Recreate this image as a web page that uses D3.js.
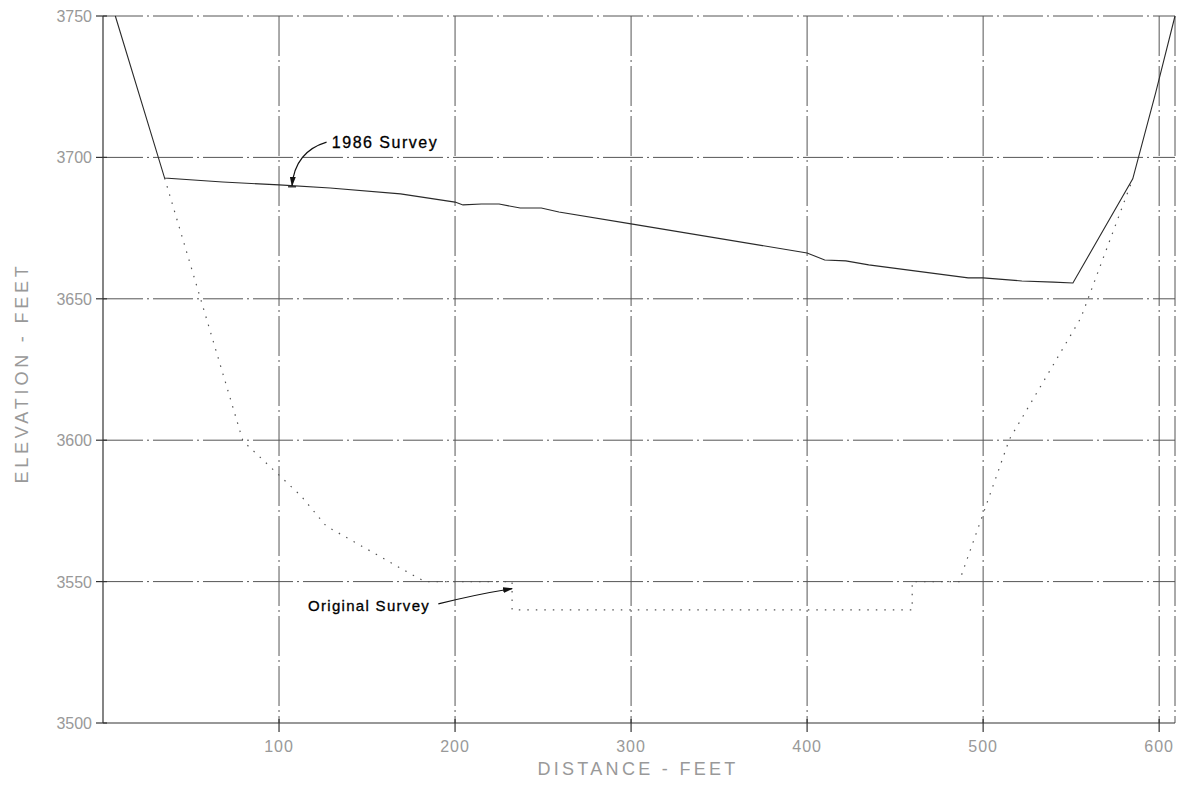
<!DOCTYPE html>
<html>
<head>
<meta charset="utf-8">
<script src="https://cdn.jsdelivr.net/npm/d3@7"></script>
<style>
  html, body { margin: 0; padding: 0; background: #fff; }
  svg { display: block; }
</style>
</head>
<body>
<svg id="chart" width="1177" height="786"></svg>
<script>
// ---- data ----
const xTicks = [100, 200, 300, 400, 500, 600];
const yTicks = [3500, 3550, 3600, 3650, 3700, 3750];
const xTickLabels = ["100", "200", "300", "400", "500", "600"];
const yTickLabels = ["3500", "3550", "3600", "3650", "3700", "3750"];

const survey1986X = [7, 35, 68, 100, 129, 169, 200, 204.5, 215, 225, 237, 249, 259, 300, 400, 410, 422, 435, 491.5, 500, 522, 540, 551, 585, 598, 609];
const survey1986Y = [3750, 3692.7, 3691.3, 3690.3, 3689.2, 3687.1, 3684.2, 3683.2, 3683.5, 3683.5, 3682.1, 3682.1, 3680.7, 3676.5, 3666.2, 3663.7, 3663.4, 3662, 3657.4, 3657.4, 3656.3, 3655.9, 3655.6, 3692.4, 3722.8, 3750];

const originalX = [35, 79.5, 112.5, 126.7, 174, 183, 232.4, 232.4, 459.7, 459.7, 486.4, 515, 555.5, 585];
const originalY = [3692.7, 3599.7, 3580.3, 3569.7, 3553, 3550, 3550, 3540, 3540, 3550, 3550, 3600.4, 3643.2, 3692.4];

const xTitle = "DISTANCE - FEET";
const yTitle = "ELEVATION - FEET";
const label1986 = "1986 Survey";
const labelOriginal = "Original Survey";

// ---- layout ----
const svg = d3.select("#chart");
const x = d3.scaleLinear().domain([0, 609]).range([103, 1175]);
const y = d3.scaleLinear().domain([3500, 3750]).range([723, 16]);

const gridColor = "#555";
const gridDash = "40,4,2,4";

svg.append("g").selectAll("line").data(yTicks.filter(d => d > 3500)).join("line")
  .attr("x1", x(0)).attr("x2", x(609))
  .attr("y1", d => y(d)).attr("y2", d => y(d))
  .attr("stroke", gridColor).attr("stroke-width", 1)
  .attr("stroke-dasharray", gridDash);

svg.append("g").selectAll("line").data(xTicks).join("line")
  .attr("x1", d => x(d)).attr("x2", d => x(d))
  .attr("y1", y(3750)).attr("y2", y(3500))
  .attr("stroke", gridColor).attr("stroke-width", 1)
  .attr("stroke-dasharray", gridDash);

svg.append("line")
  .attr("x1", x(609)).attr("x2", x(609))
  .attr("y1", y(3750)).attr("y2", y(3500))
  .attr("stroke", gridColor).attr("stroke-width", 1)
  .attr("stroke-dasharray", gridDash);

// axes
svg.append("line").attr("x1", x(0)).attr("x2", x(0)).attr("y1", y(3750)).attr("y2", y(3500))
  .attr("stroke", "#333").attr("stroke-width", 1.2);
svg.append("line").attr("x1", x(0)).attr("x2", x(609)).attr("y1", y(3500)).attr("y2", y(3500))
  .attr("stroke", "#333").attr("stroke-width", 1.2);

// tick marks
svg.append("g").selectAll("line").data(yTicks).join("line")
  .attr("x1", x(0) - 7).attr("x2", x(0) + 4)
  .attr("y1", d => y(d)).attr("y2", d => y(d))
  .attr("stroke", "#333").attr("stroke-width", 1.2);
svg.append("g").selectAll("line").data(xTicks).join("line")
  .attr("x1", d => x(d)).attr("x2", d => x(d))
  .attr("y1", y(3500) - 4).attr("y2", y(3500) + 9)
  .attr("stroke", "#333").attr("stroke-width", 1.2);

// tick labels
const labelFont = "'Liberation Sans', Arial, sans-serif";
svg.append("g").selectAll("text").data(yTicks).join("text")
  .attr("x", 92).attr("y", d => y(d) + 6)
  .attr("text-anchor", "end")
  .attr("font-family", labelFont).attr("font-size", 16)
  .attr("fill", "#999")
  .text((d, i) => yTickLabels[i]);
svg.append("g").selectAll("text").data(xTicks).join("text")
  .attr("x", d => x(d)).attr("y", 752)
  .attr("text-anchor", "middle")
  .attr("font-family", labelFont).attr("font-size", 16)
  .attr("letter-spacing", 1)
  .attr("fill", "#999")
  .text((d, i) => xTickLabels[i]);

// axis titles
svg.append("text")
  .attr("x", 638).attr("y", 775)
  .attr("text-anchor", "middle")
  .attr("font-family", labelFont).attr("font-size", 18)
  .attr("letter-spacing", 3.3)
  .attr("fill", "#999")
  .text(xTitle);
svg.append("text")
  .attr("transform", "translate(28,373) rotate(-90)")
  .attr("text-anchor", "middle")
  .attr("font-family", labelFont).attr("font-size", 18)
  .attr("letter-spacing", 3.8)
  .attr("fill", "#999")
  .text(yTitle);

// series
const line = d3.line().x(d => x(d[0])).y(d => y(d[1]));
svg.append("path")
  .datum(originalX.map((v, i) => [v, originalY[i]]))
  .attr("d", line)
  .attr("fill", "none")
  .attr("stroke", "#555").attr("stroke-width", 1.2)
  .attr("stroke-dasharray", "1.5,7");
svg.append("path")
  .datum(survey1986X.map((v, i) => [v, survey1986Y[i]]))
  .attr("d", line)
  .attr("fill", "none")
  .attr("stroke", "#2a2a2a").attr("stroke-width", 1.1);

// arrow marker
const defs = svg.append("defs");
defs.append("marker")
  .attr("id", "arrow").attr("viewBox", "0 0 10 6")
  .attr("refX", 9).attr("refY", 3)
  .attr("markerWidth", 10).attr("markerHeight", 6)
  .attr("markerUnits", "userSpaceOnUse")
  .attr("orient", "auto")
  .append("path").attr("d", "M0,0 L10,3 L0,6 Z").attr("fill", "#111");

// annotations
svg.append("path")
  .attr("d", `M${x(127)},${y(3705.4)} Q${x(109)},${y(3702)} ${x(107.4)},${y(3690)}`)
  .attr("fill", "none").attr("stroke", "#111").attr("stroke-width", 1.2)
  .attr("marker-end", "url(#arrow)");
svg.append("line")
  .attr("x1", x(107.4) - 4).attr("x2", x(107.4) + 4)
  .attr("y1", y(3689.6)).attr("y2", y(3689.6))
  .attr("stroke", "#111").attr("stroke-width", 1.2);
svg.append("text")
  .attr("x", x(130)).attr("y", y(3703.5))
  .attr("font-family", labelFont).attr("font-size", 16)
  .attr("letter-spacing", 1.5)
  .attr("fill", "#000").attr("stroke", "#000").attr("stroke-width", 0.3)
  .text(label1986);

svg.append("path")
  .attr("d", `M${x(190.5)},${y(3542.1)} Q${x(212)},${y(3545.5)} ${x(232.4)},${y(3547.5)}`)
  .attr("fill", "none").attr("stroke", "#111").attr("stroke-width", 1.2)
  .attr("marker-end", "url(#arrow)");
svg.append("text")
  .attr("x", x(116.5)).attr("y", y(3539.5))
  .attr("font-family", labelFont).attr("font-size", 15)
  .attr("letter-spacing", 1.3)
  .attr("fill", "#000").attr("stroke", "#000").attr("stroke-width", 0.3)
  .text(labelOriginal);
</script>
</body>
</html>
